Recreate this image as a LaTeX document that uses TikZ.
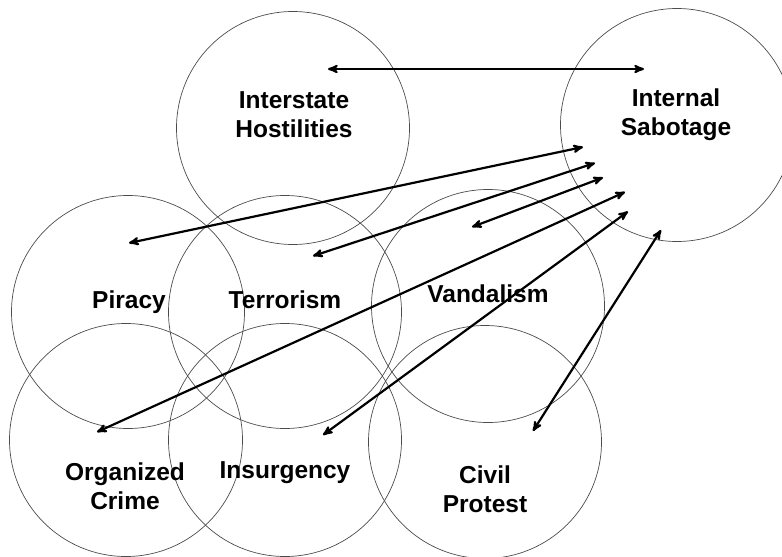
\documentclass[tikz,border=0pt]{standalone}
\usepackage{fontspec}
\setmainfont{Liberation Sans}
\usepackage{tikz}
\usetikzlibrary{arrows}

\tikzset{
	field/.style={circle, draw=black!70, line width=0.7pt, minimum size=233pt, inner sep=0pt},
	tag/.style={font=\bfseries\fontsize{24.5}{28.8}\selectfont, align=center, inner sep=0pt},
	link/.style={<->, >=stealth', line width=2.2pt}
}

\begin{document}
\begin{tikzpicture}[x=1pt, y=-1pt]
			\useasboundingbox (0,0) rectangle (782,557);

				% circles
				\node [field]	(hostil)	at (293,128)	{};
				\node [field]	(sabot)		at (677,125)	{};
				\node [field]	(piracy)	at (128,312)	{};
				\node [field]	(terror)	at (285,312)	{};
				\node [field]	(vandal)	at (488,306)	{};
				\node [field]	(crime)		at (126,440)	{};
				\node [field]	(insurg)	at (285,440)	{};
				\node [field]	(protest)	at (485,442)	{};

				% labels
				\node [tag, anchor=north]	(hostil-t)	at (294,91.5)	{Interstate\\Hostilities};
				\node [tag, anchor=north]	(sabot-t)	at (676,89)		{Internal\\Sabotage};
				\node [tag, anchor=base]	(piracy-t)	at (129,308)	{Piracy};
				\node [tag, anchor=base]	(terror-t)	at (285,308)	{Terrorism};
				\node [tag, anchor=base]	(vandal-t)	at (488,302)	{Vandalism};
				\node [tag, anchor=north]	(crime-t)	at (125,462.5)	{Organized\\Crime};
				\node [tag, anchor=base]	(insurg-t)	at (285,478)	{Insurgency};
				\node [tag, anchor=north]	(protest-t)	at (485,466)	{Civil\\Protest};

				% arrow ends
				\coordinate (h)		at (328,69);
				\coordinate (s1)	at (644,69);
				\coordinate (p)		at (129,243);
				\coordinate (s2)	at (583,147);
				\coordinate (t)		at (313,256);
				\coordinate (s3)	at (595,163);
				\coordinate (v)		at (472,227);
				\coordinate (s4)	at (603,177.5);
				\coordinate (c)		at (97,432);
				\coordinate (s5)	at (625,192);
				\coordinate (i)		at (323,435);
				\coordinate (s6)	at (628,211.5);
				\coordinate (cp)	at (533,431);
				\coordinate (s7)	at (661,230);

				\path [link]	(h)		edge	(s1)
								(p)		edge	(s2)
								(t)		edge	(s3)
								(v)		edge	(s4)
								(c)		edge	(s5)
								(i)		edge	(s6)
								(cp)	edge	(s7);

\end{tikzpicture}
\end{document}
